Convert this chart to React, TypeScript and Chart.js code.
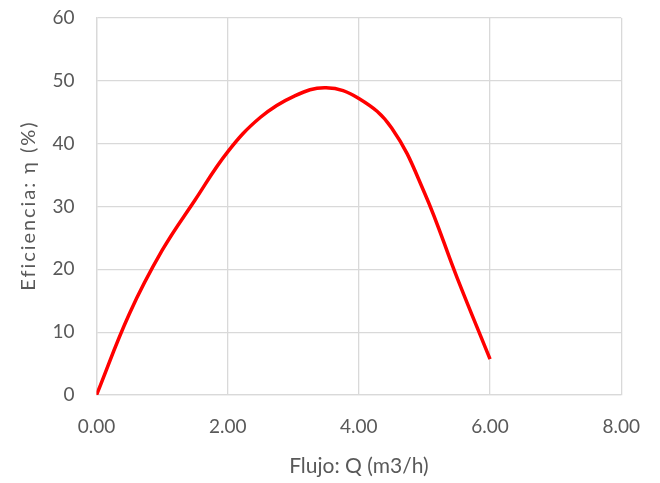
import React, { useEffect, useRef } from "react";
import { Chart, registerables } from "chart.js";

Chart.register(...registerables);

const flowQ = [0, 0.5, 1.0, 1.5, 2.0, 2.5, 3.0, 3.5, 4.0, 4.5, 5.0, 5.5, 6.0];
const efficiency = [0, 12.9, 23, 31, 38.7, 44.2, 47.5, 48.9, 47.2, 42.5, 32.2, 18.6, 5.7];
const xTitle = "Flujo: Q (m3/h)";
const yTitle = "Eficiencia: η (%)";

const FONT = "Lato, 'Open Sans', sans-serif";
const TICK_COLOR = "#595959";
const GRID_COLOR = "#d9d9d9";

const yTitlePlugin = {
  id: "spacedYTitle",
  afterDraw(chart: any) {
    const ctx = chart.ctx as CanvasRenderingContext2D;
    const area = chart.chartArea;
    ctx.save();
    ctx.font = `20px ${FONT}`;
    ctx.fillStyle = TICK_COLOR;
    const w0 = ctx.measureText(yTitle).width;
    const target = 170;
    const n = Array.from(yTitle).length;
    const sp = Math.max(0, (target - w0) / n);
    (ctx as any).letterSpacing = `${sp}px`;
    ctx.translate(29, (area.top + area.bottom) / 2);
    ctx.rotate(-Math.PI / 2);
    ctx.textAlign = "center";
    ctx.textBaseline = "middle";
    ctx.fillText(yTitle, sp / 2, 0);
    ctx.restore();
  },
};

export default function App() {
  const ref = useRef<HTMLCanvasElement | null>(null);
  useEffect(() => {
    if (!ref.current) return;
    const chart = new Chart(ref.current, {
      type: "line",
      data: {
        datasets: [
          {
            data: flowQ.map((q, i) => ({ x: q, y: efficiency[i] })),
            borderColor: "#ff0000",
            borderWidth: 3.5,
            pointRadius: 0,
            fill: false,
            tension: 0.4,
          },
        ],
      },
      options: {
        animation: false,
        responsive: false,
        maintainAspectRatio: false,
        layout: { padding: { top: 18, right: 38, bottom: 0, left: 0 } },
        plugins: { legend: { display: false }, tooltip: { enabled: false } },
        scales: {
          x: {
            type: "linear",
            min: 0,
            max: 8,
            afterFit: (s: any) => {
              s.height = 88;
            },
            ticks: {
              stepSize: 2,
              padding: 20,
              color: TICK_COLOR,
              font: { family: FONT, size: 19 },
              callback: (v: any) => Number(v).toFixed(2),
            },
            grid: { color: GRID_COLOR, lineWidth: 1.3, drawTicks: false },
            border: { color: GRID_COLOR, width: 1.3 },
            title: {
              display: true,
              text: xTitle,
              color: TICK_COLOR,
              font: { family: FONT, size: 21 },
              padding: { top: 0, bottom: 4 },
            },
          },
          y: {
            min: 0,
            max: 60,
            afterFit: (s: any) => {
              s.width = 96.5;
              s.paddingTop = 0;
              s.paddingBottom = 0;
            },
            ticks: {
              stepSize: 10,
              padding: 22,
              color: TICK_COLOR,
              font: { family: FONT, size: 19 },
            },
            grid: { color: GRID_COLOR, lineWidth: 1.3, drawTicks: false },
            border: { color: GRID_COLOR, width: 1.3 },
            title: { display: false, text: yTitle },
          },
        },
      },
      plugins: [yTitlePlugin],
    });
    return () => chart.destroy();
  }, []);
  return (
    <div style={{ position: "fixed", left: 0, top: 0, width: 660, height: 483, background: "#fff" }}>
      <canvas ref={ref} width={660} height={483} style={{ width: 660, height: 483 }} />
    </div>
  );
}
